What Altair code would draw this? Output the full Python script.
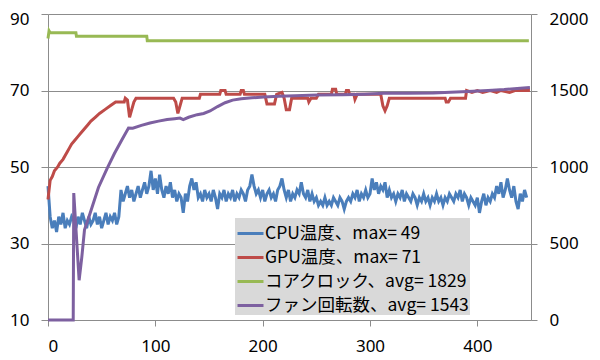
import altair as alt
import pandas as pd

series_names = ["CPU温度、max= 49", "GPU温度、max= 71", "コアクロック、avg= 1829", "ファン回転数、avg= 1543"]
colors = ["#4A7EBB", "#BE4B48", "#98B954", "#7D60A0"]

# CPU temperature (left axis), sampled every 2 s
cpu_t = list(range(0, 448, 2))
cpu_v = [45, 37, 34, 36, 33, 37, 35, 38, 34, 36, 35, 37, 36, 34, 37, 35, 38, 36, 34, 37,
         35, 36, 38, 35, 37, 34, 36, 38, 35, 37, 36, 38, 35, 37,
         44, 41, 43, 45, 42, 44, 41, 43, 45, 42, 44, 46, 43, 45, 49, 44, 47, 43, 48, 44,
         42, 45, 43, 46, 42, 44, 41, 43, 42, 38, 43, 41, 45, 47, 44, 46, 42,
         43, 41, 44, 42, 43, 41, 44, 42, 39, 43, 42, 44, 41, 43, 42, 44, 41, 43, 42, 44,
         43, 41, 44, 45, 48, 45, 43, 44, 42, 44, 41, 43, 44, 42, 43, 41, 44, 45, 47, 44,
         42, 44, 41, 43, 42, 44, 43, 46, 43, 42, 44, 41, 43, 41, 42, 40, 41, 40, 42, 40,
         41, 40, 42, 41, 40, 42, 41, 39, 41, 42, 41, 43, 42, 44, 41, 43, 42, 44, 42, 43,
         47, 44, 46, 43, 45, 44, 46, 42, 44, 42, 43, 41, 43, 42, 44, 41, 43, 42, 41, 43,
         42, 40, 42, 41, 43, 41, 42, 40, 42, 41, 43, 41, 42, 40, 42, 41, 43, 42, 41, 43,
         42, 44, 41, 43, 42, 40, 42, 41, 40, 42, 38, 41, 43, 40, 42, 41, 43, 42, 45, 43,
         46, 42, 44, 47, 44, 42, 45, 41, 39, 43, 41, 44, 42]

# GPU temperature (left axis)
gpu_t = [0, 1, 2, 4, 6, 9, 11, 14, 16, 18, 20, 22, 25, 28, 31, 34, 37, 40, 44, 48,
         53, 58, 63, 71, 72, 74, 76, 78, 80, 82, 117, 119, 121, 123, 125, 141, 142, 160, 161, 165,
         166, 179, 180, 182, 183, 202, 204, 211, 213, 218, 220, 222, 225, 227, 242, 243, 245, 250, 252, 264,
         265, 268, 269, 277, 278, 280, 281, 285, 286, 288, 310, 312, 314, 316, 318, 370, 371, 373, 375, 389,
         390, 395, 400, 405, 412, 418, 422, 430, 435, 449]
gpu_v = [41.5, 44, 46.5, 47.5, 49, 50, 51, 52, 53, 54, 55, 56, 57, 58, 59, 60, 61, 62, 63, 64,
         65, 66, 67, 67, 68, 67.5, 63, 65, 67, 68, 68, 67, 64, 66, 68, 68, 69, 69, 70, 70,
         69, 69, 70, 70, 69, 69, 66.5, 66.5, 69, 69.5, 68, 65, 65, 68, 68, 67, 68, 68, 69, 69,
         70.3, 70.3, 69, 69, 70, 70, 69, 69, 67.7, 69, 69, 66, 64.7, 66, 68, 68, 67, 67, 68, 68,
         70, 69.5, 70, 69.5, 70, 69.5, 70, 69.5, 70, 70]

# Core clock (right axis)
clock_t = [0, 1, 2, 26, 26.5, 92, 92.5, 448]
clock_v = [1840, 1890, 1878, 1878, 1855, 1855, 1825, 1825]

# Fan speed (right axis)
fan_t = [0, 23.5, 24, 29, 31.5, 34, 39, 47, 55, 62, 69, 75, 79, 87, 95, 103, 111, 118, 123, 126,
         131, 139, 145, 151, 158, 165, 172, 180, 190, 201, 215, 230, 251, 275, 295, 313, 335, 359, 375, 391,
         410, 425, 440, 449]
fan_v = [0, 0, 830, 260, 411, 590, 693, 866, 990, 1090, 1180, 1255, 1253, 1272, 1288, 1300, 1310, 1316, 1320, 1310,
         1325, 1342, 1350, 1366, 1395, 1420, 1437, 1446, 1452, 1458, 1462, 1466, 1470, 1472, 1476, 1482, 1482, 1484, 1488, 1493,
         1500, 1506, 1515, 1520]

left_df = pd.concat([
    pd.DataFrame({"t": cpu_t, "v": cpu_v, "s": series_names[0]}),
    pd.DataFrame({"t": gpu_t, "v": gpu_v, "s": series_names[1]}),
])
right_df = pd.concat([
    pd.DataFrame({"t": clock_t, "v": clock_v, "s": series_names[2]}),
    pd.DataFrame({"t": fan_t, "v": fan_v, "s": series_names[3]}),
])

GRAY = "#8c8c8c"
LABEL_FONT = "Noto Sans"

x_enc = alt.X("t:Q", title=None,
              scale=alt.Scale(domain=[0, 450], nice=False, zero=False),
              axis=alt.Axis(values=[0, 100, 200, 300, 400], grid=False, tickSize=6,
                            labelPadding=12, domainColor=GRAY, tickColor=GRAY))

color_enc = alt.Color("s:N", title=None,
                      scale=alt.Scale(domain=series_names, range=colors),
                      legend=alt.Legend(orient="none", legendX=187, legendY=204,
                                        fillColor="#d9d9d9", padding=1, rowPadding=1,
                                        symbolType="stroke", symbolSize=676, symbolStrokeWidth=3,
                                        labelFont="Noto Sans CJK JP", labelFontSize=17.5,
                                        labelColor="#000000", labelLimit=0, labelOffset=0))

left = alt.Chart(left_df).mark_line(strokeWidth=3).encode(
    x=x_enc,
    y=alt.Y("v:Q", title=None,
            scale=alt.Scale(domain=[10, 90], nice=False, zero=False),
            axis=alt.Axis(orient="left", values=[10, 30, 50, 70, 90], grid=True,
                          gridColor=GRAY, tickSize=7, labelPadding=12,
                          labelOffset={"condition": {"test": "datum.value == 90", "value": 5}, "value": 0},
                          domainColor=GRAY, tickColor=GRAY)),
    color=color_enc,
    order="t:Q",
)

right = alt.Chart(right_df).mark_line(strokeWidth=3).encode(
    x=x_enc,
    y=alt.Y("v:Q", title=None,
            scale=alt.Scale(domain=[0, 2000], nice=False, zero=False),
            axis=alt.Axis(orient="right", values=[0, 500, 1000, 1500, 2000], grid=False,
                          format="d", tickSize=6, labelPadding=12,
                          labelOffset={"condition": {"test": "datum.value == 2000", "value": 5}, "value": 0},
                          domainColor=GRAY, tickColor=GRAY)),
    color=color_enc,
    order="t:Q",
)

chart = alt.layer(left, right).resolve_scale(y="independent").properties(
    width=483, height=306,
    autosize=alt.AutoSizeParams(type="none"),
    padding={"left": 40, "top": 6, "right": 58, "bottom": 40},
).configure_view(stroke=None).configure_axis(
    labelFont=LABEL_FONT, labelFontSize=17, labelColor="#000000",
)

chart.save("out.html", embed_options={"renderer": "svg", "actions": False})
